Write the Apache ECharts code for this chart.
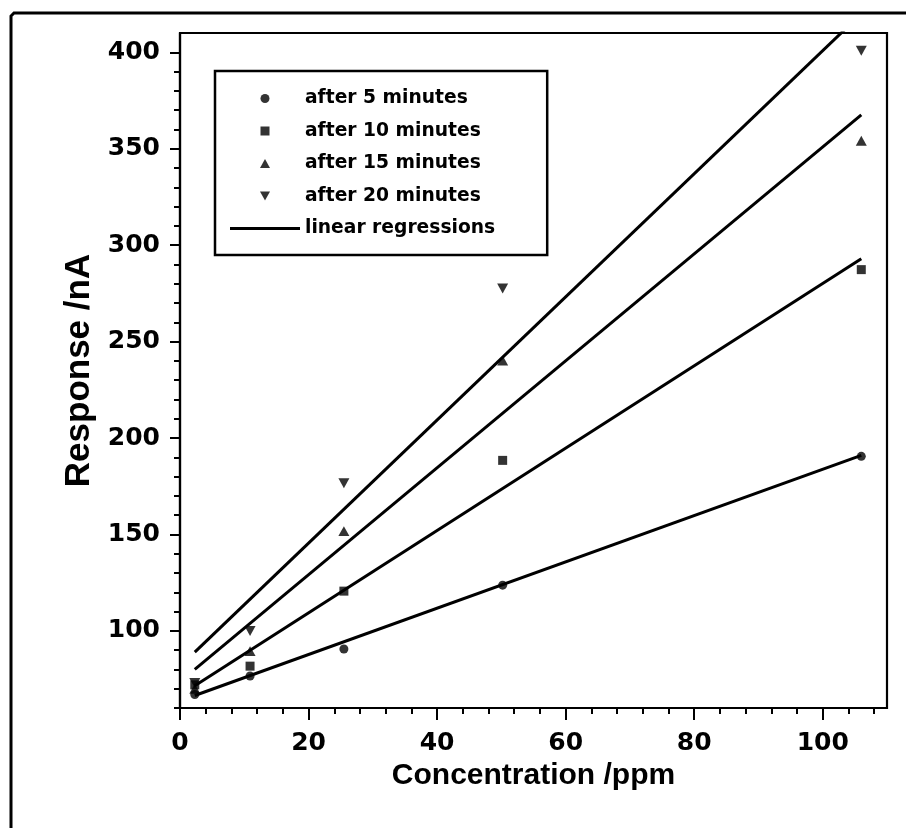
<!DOCTYPE html>
<html>
<head>
<meta charset="utf-8">
<script src="https://cdn.jsdelivr.net/npm/echarts@6/dist/echarts.min.js"></script>
<style>
html,body{margin:0;padding:0;background:#fff;}
#chart{width:906px;height:828px;}
</style>
</head>
<body>
<div id="chart"></div>
<script>
// ---- data ----
const concentrations = [2.3, 10.9, 25.5, 50.2, 106];
const after5  = [67, 76.6, 90.6, 123.7, 190.5];
const after10 = [72, 81.7, 120.6, 188.4, 287.3];
const after15 = [70, 89.5, 151.7, 240.2, 354.1];
const after20 = [73, 99.9, 176.5, 277.5, 400.8];
// regression line end points (x, then y at those x)
const fitX  = [2.3, 106];
const fit5  = [66.5, 191];
const fit10 = [71.5, 293];
const fit15 = [80, 367.5];
const fit20 = [89, 420];
const seriesNames = ['after 5 minutes', 'after 10 minutes', 'after 15 minutes', 'after 20 minutes'];
const fitName = 'linear regressions';
// tick labels / tick positions
const xMajorTicks = [0, 20, 40, 60, 80, 100];
const xMinorTicks = [4, 8, 12, 16, 24, 28, 32, 36, 44, 48, 52, 56, 64, 68, 72, 76, 84, 88, 92, 96, 104, 108];
const yMajorTicks = [100, 150, 200, 250, 300, 350, 400];
const yMinorTicks = [60, 70, 80, 90, 110, 120, 130, 140, 160, 170, 180, 190, 210, 220, 230, 240, 260, 270, 280, 290, 310, 320, 330, 340, 360, 370, 380, 390];

const FONT = 'DejaVu Sans';
const zip = (xs, ys) => xs.map((x, i) => [x, ys[i]]);

const chart = echarts.init(document.getElementById('chart'), null, {renderer: 'canvas'});

const SQUARE = 'path://M0,0L10,0L10,10L0,10Z';
const TRI_UP = 'path://M5,0L10,9L0,9Z';
const TRI_DOWN = 'path://M0,0L10,0L5,9Z';
const markerDefs = [
  {symbol: 'circle', size: 9},
  {symbol: SQUARE, size: 9},
  {symbol: TRI_UP, size: 11},
  {symbol: TRI_DOWN, size: 11}
];
const legendIcons = ['circle', SQUARE, TRI_UP, TRI_DOWN];
const pointSets = [after5, after10, after15, after20];
const fitSets = [fit5, fit10, fit15, fit20];

const series = [];
fitSets.forEach((f) => {
  series.push({
    type: 'line', name: fitName, data: zip(fitX, f),
    symbol: 'none', showSymbol: false, clip: true, z: 2,
    lineStyle: {color: '#000', width: 3},
    itemStyle: {color: '#000'}
  });
});
pointSets.forEach((p, i) => {
  series.push({
    type: 'scatter', name: seriesNames[i], data: zip(concentrations, p),
    symbol: markerDefs[i].symbol, symbolSize: markerDefs[i].size, symbolKeepAspect: true,
    itemStyle: {color: '#000'}, z: 3
  });
});

const legendData = seriesNames.map((n, i) => ({name: n, icon: legendIcons[i]}));
legendData.push({name: fitName, icon: 'path://M0,0L70,0L70,2.8L0,2.8Z'});

const axisBase = {
  axisLine: {show: true, onZero: false, lineStyle: {color: '#000', width: 2.2}},
  splitLine: {show: false}
};

chart.setOption({
  backgroundColor: '#fff',
  animation: false,
  grid: {left: 180, right: 19, top: 33, bottom: 120, show: true, borderColor: '#000', borderWidth: 2.2, backgroundColor: 'transparent'},
  legend: {
    orient: 'vertical', left: 215, top: 71,
    data: legendData,
    itemWidth: 70, itemHeight: 9, itemGap: 13.5,
    symbolKeepAspect: true,
    padding: [18, 52, 17, 15],
    borderColor: '#000', borderWidth: 2.5,
    inactiveColor: '#000',
    itemStyle: {color: '#000'},
    textStyle: {fontFamily: FONT, fontWeight: 'bold', fontSize: 18.7, color: '#000', lineHeight: 18}
  },
  xAxis: [
    Object.assign({}, axisBase, {
      type: 'value', min: 0, max: 110, position: 'bottom',
      name: 'Concentration /ppm', nameLocation: 'middle', nameGap: 38,
      nameTextStyle: {fontFamily: 'Liberation Sans', fontWeight: 'bold', fontSize: 30, color: '#000'},
      axisTick: {show: true, inside: false, length: 12, customValues: xMajorTicks, lineStyle: {color: '#000', width: 2}},
      axisLabel: {show: true, customValues: xMajorTicks, margin: 23, fontFamily: FONT, fontWeight: 'bold', fontSize: 25, color: '#000'}
    }),
    Object.assign({}, axisBase, {
      type: 'value', min: 0, max: 110, position: 'bottom', gridIndex: 0,
      axisLine: {show: false, onZero: false},
      axisTick: {show: true, inside: false, length: 6, customValues: xMinorTicks, lineStyle: {color: '#000', width: 2}},
      axisLabel: {show: false}
    })
  ],
  yAxis: [
    Object.assign({}, axisBase, {
      type: 'value', min: 60, max: 410, position: 'left',
      name: 'Response /nA', nameLocation: 'middle', nameGap: 80, nameRotate: 90,
      nameTextStyle: {fontFamily: 'Liberation Sans', fontWeight: 'bold', fontSize: 35, color: '#000'},
      axisTick: {show: true, inside: false, length: 10, customValues: yMajorTicks, lineStyle: {color: '#000', width: 2}},
      axisLabel: {show: true, customValues: yMajorTicks, margin: 20, fontFamily: FONT, fontWeight: 'bold', fontSize: 25, color: '#000'}
    }),
    Object.assign({}, axisBase, {
      type: 'value', min: 60, max: 410, position: 'left', gridIndex: 0,
      axisLine: {show: false, onZero: false},
      axisTick: {show: true, inside: false, length: 6, customValues: yMinorTicks, lineStyle: {color: '#000', width: 2}},
      axisLabel: {show: false}
    })
  ],
  graphic: [
    {type: 'polyline', silent: true, z: 100,
     shape: {points: [[11, 828], [11, 16], [14, 13], [906, 13]]},
     style: {stroke: '#000', lineWidth: 3, fill: null}}
  ],
  series: series
});
</script>
</body>
</html>
